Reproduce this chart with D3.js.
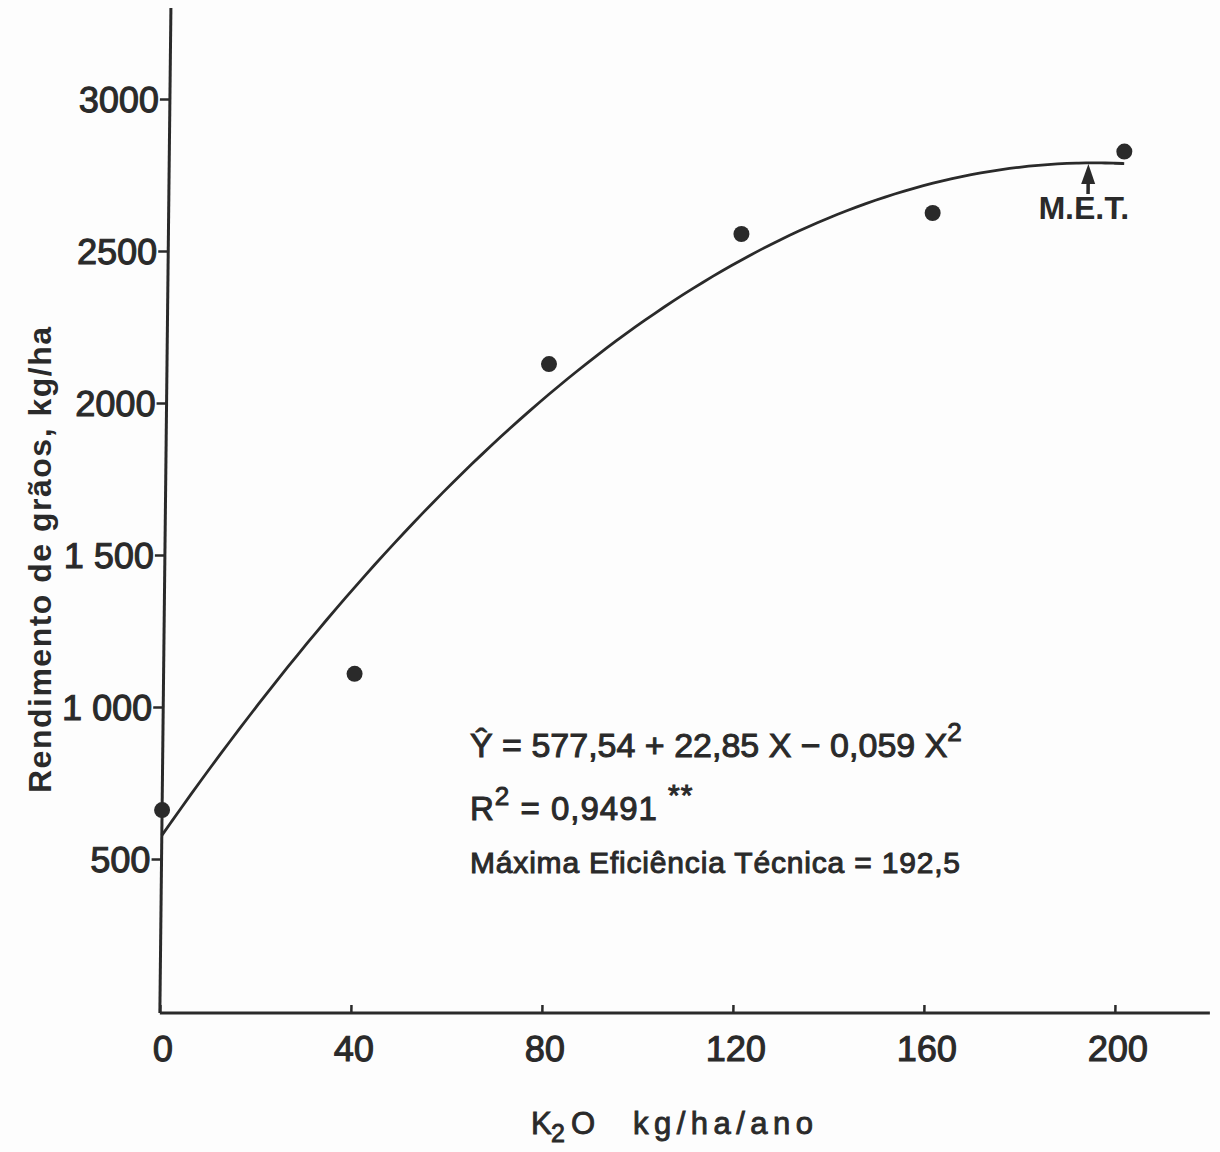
<!DOCTYPE html>
<html lang="pt">
<head>
<meta charset="utf-8">
<title>Rendimento de grãos em função de K2O</title>
<script src="https://cdn.jsdelivr.net/npm/d3@7"></script>
<style>
  html, body { margin: 0; padding: 0; background: #fdfdfd; }
  svg { display: block; }
  text { font-family: "Liberation Sans", Arial, sans-serif; fill: #2a2a2a; }
</style>
</head>
<body>
<svg id="chart" width="1220" height="1152"></svg>
<script>
// Doses de K2O (kg/ha/ano) e rendimento observado (kg/ha)
const doses = [0, 40, 80, 120, 160, 200];
const rendimento = [661, 1109, 2128, 2556, 2625, 2827];

// Coeficientes da regressão quadrática: Y = b0 + b1 X + b2 X²
const coeficientes = [577.54, 22.85, -0.059];
const maximaEficiencia = 192.5;

// Marcas e rótulos dos eixos
const xTicks = [0, 40, 80, 120, 160, 200];
const xTickLabels = ["0", "40", "80", "120", "160", "200"];
const yTicks = [500, 1000, 1500, 2000, 2500, 3000];
const yTickLabels = ["500", "1 000", "1 500", "2000", "2500", "3000"];

const ink = "#2a2a2a";
const svg = d3.select("#chart");

const x = d3.scaleLinear().domain([0, 200]).range([160, 1115]);
const y = d3.scaleLinear().domain([0, 3000]).range([1011, 99]);

// Plot area, slightly slanted like the hand-drawn axis
const plot = svg.append("g").attr("transform", "translate(11,0) skewX(-0.63)");

// Y axis
const yAxis = plot.append("g")
  .attr("transform", `translate(${x(0)},0)`)
  .call(d3.axisLeft(y)
    .tickValues(yTicks)
    .tickSize(10)
    .tickFormat((d, i) => yTickLabels[i]));
yAxis.select(".domain").remove();
yAxis.selectAll(".tick line").attr("stroke", ink).attr("stroke-width", 2.5);
yAxis.selectAll(".tick text")
  .attr("x", -11)
  .attr("dy", "0.36em")
  .style("font-size", "36px")
  .style("stroke", ink).style("stroke-width", 1.1)
  .attr("fill", ink);
plot.append("line")
  .attr("x1", x(0)).attr("x2", x(0))
  .attr("y1", 8).attr("y2", 1013)
  .attr("stroke", ink).attr("stroke-width", 3);

// X axis
const xAxis = plot.append("g")
  .attr("transform", `translate(0,${y(0) + 2})`)
  .call(d3.axisBottom(x)
    .tickValues(xTicks)
    .tickSize(-8)
    .tickFormat((d, i) => xTickLabels[i]));
xAxis.select(".domain").remove();
xAxis.selectAll(".tick line").attr("stroke", ink).attr("stroke-width", 2.5);
xAxis.selectAll(".tick text")
  .attr("y", 35)
  .attr("dx", 3)
  .attr("dy", "0.36em")
  .style("font-size", "36px")
  .style("stroke", ink).style("stroke-width", 1.1)
  .attr("fill", ink);
plot.append("line")
  .attr("x1", x(0)).attr("x2", 1210)
  .attr("y1", y(0) + 2).attr("y2", y(0) + 2)
  .attr("stroke", ink).attr("stroke-width", 3);

// Fitted quadratic curve
const ajuste = X => coeficientes[0] + coeficientes[1] * X + coeficientes[2] * X * X;
const curvaX = d3.range(0, 200.01, 2);
plot.append("path")
  .datum(curvaX)
  .attr("fill", "none")
  .attr("stroke", ink)
  .attr("stroke-width", 2.8)
  .attr("d", d3.line().x(d => x(d)).y(d => y(ajuste(d))).curve(d3.curveBasis));

// Observed points
plot.selectAll("circle.obs")
  .data(doses)
  .join("circle")
  .attr("class", "obs")
  .attr("cx", d => x(d))
  .attr("cy", (d, i) => y(rendimento[i]))
  .attr("r", 8)
  .attr("fill", ink);

// M.E.T. arrow
const metX = x(maximaEficiencia);
const metY = y(ajuste(maximaEficiencia));
plot.append("line")
  .attr("x1", metX).attr("x2", metX)
  .attr("y1", metY + 18).attr("y2", metY + 31)
  .attr("stroke", ink).attr("stroke-width", 3.5);
plot.append("path")
  .attr("d", `M${metX},${metY + 1} L${metX - 7},${metY + 21} L${metX + 7},${metY + 21} Z`)
  .attr("fill", ink);
plot.append("text")
  .attr("x", metX - 4)
  .attr("y", metY + 56)
  .attr("text-anchor", "middle")
  .style("font-size", "32px")
  .style("font-weight", "bold")
  .text("M.E.T.");

// Regression annotation
const eq = svg.append("g").style("stroke", ink).style("stroke-width", 1.0);
const l1 = eq.append("text").attr("x", 470).attr("y", 757)
  .style("font-size", "34px");
l1.append("tspan").text("Ŷ = 577,54 + 22,85 X − 0,059 X");
l1.append("tspan").attr("dy", -16).style("font-size", "26px").text("2");

const l2 = eq.append("text").attr("x", 470).attr("y", 820)
  .style("font-size", "33px").style("letter-spacing", "1px");
l2.append("tspan").text("R");
l2.append("tspan").attr("dy", -15).style("font-size", "26px").text("2");
l2.append("tspan").attr("dy", 15).text(" = 0,9491 ");
l2.append("tspan").attr("dy", -15).style("font-size", "30px").text("**");

eq.append("text").attr("x", 470).attr("y", 873)
  .style("font-size", "30px")
  .attr("textLength", 490)
  .attr("lengthAdjust", "spacing")
  .text("Máxima  Eficiência  Técnica = 192,5");

// Axis titles
svg.append("text")
  .attr("transform", "translate(51,560) rotate(-90)")
  .attr("text-anchor", "middle")
  .style("font-size", "32px")
  .style("font-weight", "bold")
  .attr("textLength", 466)
  .attr("lengthAdjust", "spacing")
  .text("Rendimento de grãos, kg/ha");

const xt = svg.append("text").attr("x", 531).attr("y", 1134)
  .style("font-size", "31px").style("stroke", ink).style("stroke-width", 0.9);
xt.append("tspan").text("K");
xt.append("tspan").attr("x", 551).attr("dy", 8).style("font-size", "25px").text("2");
xt.append("tspan").attr("x", 571).attr("dy", -8).text("O");
xt.append("tspan").attr("x", 633).attr("textLength", 180).attr("lengthAdjust", "spacing").text("kg/ha/ano");
</script>
</body>
</html>
